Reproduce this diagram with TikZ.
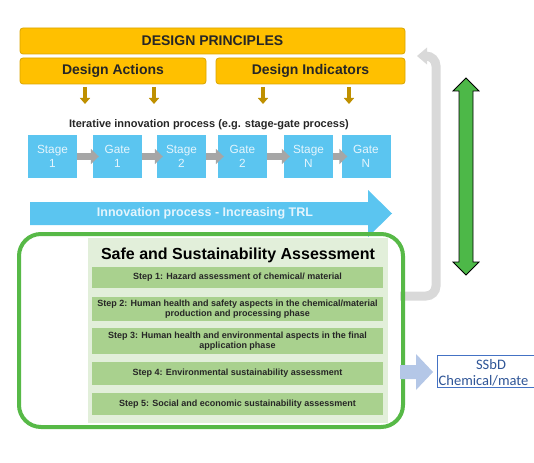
\documentclass[tikz,border=0pt]{standalone}
\usepackage{fontspec}
\setmainfont{Liberation Sans}
\newfontfamily\calib{Carlito}
\usetikzlibrary{arrows.meta}
\definecolor{gold}{HTML}{FFC000}
\definecolor{goldline}{HTML}{D9A400}
\definecolor{darkgold}{HTML}{BF9000}
\definecolor{skyb}{HTML}{5BC5F0}
\definecolor{skytext}{HTML}{E4F5FD}
\definecolor{arrgray}{HTML}{A6A6A6}
\definecolor{retgray}{HTML}{D9D9D9}
\definecolor{frameg}{HTML}{57B947}
\definecolor{panelg}{HTML}{E2EFDA}
\definecolor{stepg}{HTML}{A9D18E}
\definecolor{dblg}{HTML}{4DB848}
\definecolor{outarr}{HTML}{B4C7E7}
\definecolor{outline}{HTML}{4472C4}
\definecolor{outtext}{HTML}{2F5597}
\definecolor{txt}{HTML}{262626}
\tikzset{
  goldbox/.style={draw=goldline, fill=gold, line width=0.8pt, rounded corners=3pt,
    inner sep=0pt, text=txt, font=\fontsize{14}{16}\selectfont\bfseries},
  downarr/.style={draw=darkgold, line width=3.5pt, -{Triangle[width=10pt,length=6pt]}},
  sgbox/.style={fill=skyb, minimum width=49pt, minimum height=43pt, inner sep=0pt,
    text=skytext, align=center, font=\fontsize{11.8}{13.5}\selectfont},
  grayarr/.style={draw=arrgray, line width=7pt, -{Triangle[width=15pt,length=8pt]}, shorten >=-6pt},
  stepbox/.style={fill=stepg, minimum width=291pt, inner sep=0pt, align=center,
    text=txt, font=\fontsize{9}{10.5}\selectfont\bfseries},
  outtxt/.style={text=outtext, inner sep=0pt, font=\calib\fontsize{14.5}{17}\selectfont},
}
\begin{document}
\begin{tikzpicture}[x=1pt,y=-1pt]
\useasboundingbox (0,0) rectangle (534,462);
% design principles
\node[goldbox, minimum width=385pt, minimum height=26pt] (dp) at (212.5,41) {DESIGN PRINCIPLES};
\node[goldbox, minimum width=186pt, minimum height=26pt] (da) at (113,71) {Design Actions};
\node[goldbox, minimum width=189pt, minimum height=26pt] (di) at (310.5,71) {Design Indicators};
\coordinate (d1t) at (85,87);  \coordinate (d1b) at (85,104);
\coordinate (d2t) at (154,87); \coordinate (d2b) at (154,104);
\coordinate (d3t) at (263,87); \coordinate (d3b) at (263,104);
\coordinate (d4t) at (349,87); \coordinate (d4b) at (349,104);
\draw[downarr] (d1t) -- (d1b);
\draw[downarr] (d2t) -- (d2b);
\draw[downarr] (d3t) -- (d3b);
\draw[downarr] (d4t) -- (d4b);
\node[text=txt, font=\fontsize{11}{13}\selectfont\bfseries] (iter) at (209,125) {Iterative innovation process (e.g. stage-gate process)};
% stage-gate boxes
\node[sgbox] (s1) at (52.5,156.5) {Stage\\1};
\node[sgbox] (g1) at (117.5,156.5) {Gate\\1};
\node[sgbox] (s2) at (181.5,156.5) {Stage\\2};
\node[sgbox] (g2) at (242.5,156.5) {Gate\\2};
\node[sgbox] (sN) at (308.5,156.5) {Stage\\N};
\node[sgbox] (gN) at (366,156.5) {Gate\\N};
\draw[grayarr] (s1.east) -- (g1.west);
\draw[grayarr] (g1.east) -- (s2.west);
\draw[grayarr] (s2.east) -- (g2.west);
\draw[grayarr] (g2.east) -- (sN.west);
\draw[grayarr] (sN.east) -- (gN.west);
% innovation arrow
\fill[skyb] (30,202) -- (368,202) -- (368,190) -- (392,213.5) -- (368,237) -- (368,225) -- (30,225) -- cycle;
\node[text=skytext, font=\fontsize{12.5}{14}\selectfont\bfseries] (inno) at (205,213.5) {Innovation process - Increasing TRL};
% return arrow
\coordinate (r0) at (400,296);
\coordinate (r1) at (436,296);
\coordinate (r2) at (436,56);
\coordinate (r3) at (426,56);
\draw[retgray, line width=9pt, rounded corners=10pt] (r0) -- (r1) -- (r2) -- (r3);
\fill[retgray] (417,56) -- (427,47.5) -- (427,64.5) -- cycle;
% assessment frame
\node[draw=frameg, line width=4pt, rounded corners=22pt, minimum width=384pt, minimum height=193pt, inner sep=0pt] (ssa) at (211,330.5) {};
\fill[panelg] (88,238) rectangle (388,423);
\node[text=black, font=\fontsize{16}{18}\selectfont\bfseries] (title) at (238,255) {Safe and Sustainability Assessment};
\node[stepbox, minimum height=21pt] (st1) at (237.5,277.5) {Step 1: Hazard assessment of chemical/ material};
\node[stepbox, minimum height=24pt] (st2) at (237.5,309) {Step 2: Human health and safety aspects in the chemical/material\\production and processing phase};
\node[stepbox, minimum height=26pt] (st3) at (237.5,341) {Step 3: Human health and environmental aspects in the final\\application phase};
\node[stepbox, minimum height=23pt] (st4) at (237.5,373.5) {Step 4: Environmental sustainability assessment};
\node[stepbox, minimum height=22pt] (st5) at (237.5,404) {Step 5: Social and economic sustainability assessment};
% double green arrow
\filldraw[fill=dblg, draw=black, line width=0.8pt]
  (466,78) -- (479,91) -- (473,91) -- (473,262) -- (479,262) -- (466,275)
  -- (453,262) -- (459,262) -- (459,91) -- (453,91) -- cycle;
% output arrow and box
\fill[outarr] (400,365) -- (416,365) -- (416,354) -- (433,372) -- (416,390) -- (416,379) -- (400,379) -- cycle;
\begin{scope}
\clip (0,0) rectangle (534,462);
\node[draw=outline, fill=white, line width=0.8pt, minimum width=114pt, minimum height=32pt, inner sep=0pt] (out) at (494,371) {};
\end{scope}
\node[outtxt] (ssbd) at (491,365) {SSbD};
\node[outtxt, anchor=west] (chem) at (438.5,380.5) {Chemical/mate};
\end{tikzpicture}
\end{document}
